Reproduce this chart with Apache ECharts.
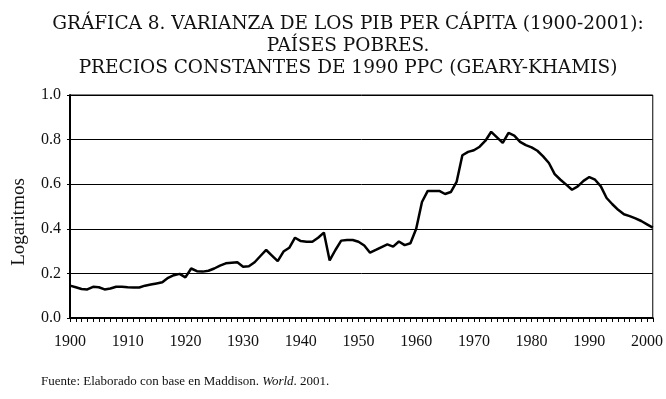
<!DOCTYPE html>
<html lang="es">
<head>
    <meta charset="UTF-8">
    <title>Gráfica 8</title>
    <script src="https://cdn.jsdelivr.net/npm/echarts@6/dist/echarts.min.js"></script>
    <style>
        html, body { margin: 0; padding: 0; background: #fff; }
        #chart { width: 666px; height: 399px; }
    </style>
</head>
<body>
<div id="chart"></div>
<script>
    // años 1900-2001
    var years = [];
    for (var y = 1900; y <= 2001; y++) {
        years.push(String(y));
    }

    // varianza (logaritmos)
    var varianza = [
        0.145, 0.138, 0.130, 0.128, 0.140, 0.138, 0.128, 0.132, 0.140, 0.140,   // 1900-1909
        0.138, 0.137, 0.137, 0.145, 0.150, 0.155, 0.160, 0.180, 0.192, 0.198,   // 1910-1919
        0.182, 0.222, 0.210, 0.208, 0.212, 0.222, 0.235, 0.245, 0.248, 0.250,   // 1920-1929
        0.230, 0.232, 0.250, 0.278, 0.305, 0.280, 0.255, 0.298, 0.315, 0.360,   // 1930-1939
        0.345, 0.342, 0.342, 0.360, 0.383, 0.258, 0.305, 0.347, 0.350, 0.350,   // 1940-1949
        0.342, 0.325, 0.293, 0.305, 0.318, 0.330, 0.320, 0.343, 0.327, 0.335,   // 1950-1959
        0.400, 0.520, 0.570, 0.570, 0.570, 0.556, 0.565, 0.610, 0.730, 0.745,   // 1960-1969
        0.752, 0.768, 0.795, 0.835, 0.810, 0.785, 0.830, 0.818, 0.790, 0.775,   // 1970-1979
        0.765, 0.750, 0.725, 0.695, 0.645, 0.620, 0.598, 0.575, 0.590, 0.615,   // 1980-1989
        0.632, 0.620, 0.590, 0.538, 0.510, 0.485, 0.465, 0.457, 0.447, 0.435,   // 1990-1999
        0.420, 0.405                                                            // 2000-2001
    ];

    var yTicks = [0, 0.2, 0.4, 0.6, 0.8, 1.0];

    var serif = '"Liberation Serif", "DejaVu Serif", serif';
    var wideSerif = '"DejaVu Serif", "Liberation Serif", serif';

    var myChart = echarts.init(document.getElementById('chart'));
    myChart.setOption({
        animation: false,
        backgroundColor: '#fff',
        title: [{
            text: 'GRÁFICA 8. VARIANZA DE LOS PIB PER CÁPITA (1900-2001):\nPAÍSES POBRES.\nPRECIOS CONSTANTES DE 1990 PPC (GEARY-KHAMIS)',
            left: 343,
            top: 8,
            textAlign: 'center',
            textStyle: {
                fontFamily: wideSerif,
                fontSize: 18.5,
                fontWeight: 'normal',
                color: '#111',
                lineHeight: 22
            }
        }, {
            text: '{n|Fuente: Elaborado con base en Maddison. }{i|World}{n|. 2001.}',
            left: 36,
            top: 370,
            textStyle: {
                rich: {
                    n: { fontFamily: serif, fontSize: 13, fontWeight: 'normal', color: '#111' },
                    i: { fontFamily: serif, fontSize: 13, fontWeight: 'normal', fontStyle: 'italic', color: '#111' }
                }
            }
        }],
        graphic: [{
            type: 'text',
            x: 19,
            y: 222,
            rotation: Math.PI / 2,
            style: {
                text: 'Logaritmos',
                fontFamily: serif,
                fontSize: 19,
                fill: '#111',
                textAlign: 'center',
                textVerticalAlign: 'middle'
            }
        }],
        grid: {
            left: 70,
            right: 10,
            top: 95,
            bottom: 81,
            show: true,
            borderColor: '#000',
            borderWidth: 1
        },
        xAxis: {
            type: 'category',
            data: years,
            boundaryGap: false,
            axisLine: { lineStyle: { color: '#000', width: 2 } },
            axisTick: {
                interval: 0,
                length: 4,
                lineStyle: { color: '#000', width: 1 }
            },
            axisLabel: {
                interval: function (index, value) {
                    return Number(value) % 10 === 0;
                },
                margin: 16,
                fontFamily: serif,
                fontSize: 16,
                color: '#111'
            },
            splitLine: { show: false }
        },
        yAxis: {
            type: 'value',
            min: yTicks[0],
            max: yTicks[yTicks.length - 1],
            interval: 0.2,
            axisLine: { show: true, lineStyle: { color: '#000', width: 2 } },
            axisTick: { show: true, length: 3, lineStyle: { color: '#000' } },
            axisLabel: {
                formatter: function (v) { return v.toFixed(1); },
                margin: 9,
                fontFamily: serif,
                fontSize: 16,
                color: '#111'
            },
            splitLine: { lineStyle: { color: '#000', width: 1 } }
        },
        series: [{
            name: 'Varianza',
            type: 'line',
            data: varianza,
            showSymbol: false,
            smooth: false,
            lineStyle: { color: '#000', width: 2.5 }
        }]
    });
</script>
</body>
</html>
